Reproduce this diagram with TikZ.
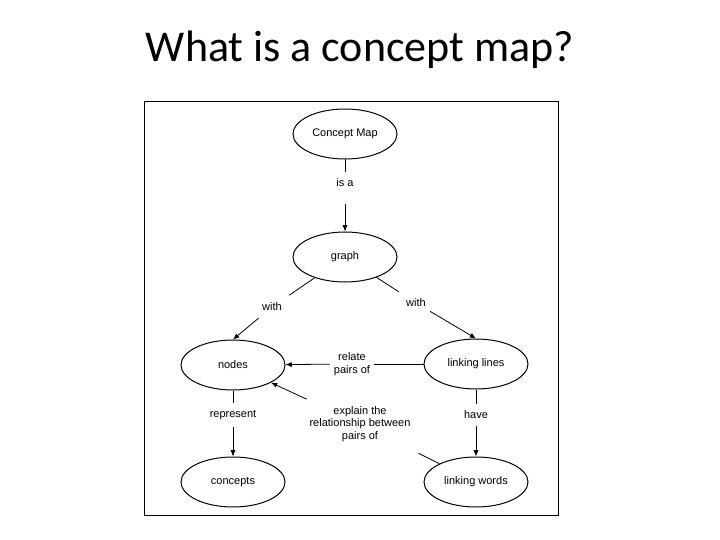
\documentclass[tikz,border=0pt]{standalone}
\usepackage{fontspec}
\setmainfont{Liberation Sans}
\newfontfamily\titlefont{Carlito}
\usetikzlibrary{arrows.meta,positioning,shapes.geometric}

\begin{document}
\begin{tikzpicture}[
    x=1pt, y=-1pt,
    concept/.style={ellipse, draw, line width=1pt, minimum width=104pt, minimum height=50pt, inner sep=0pt, font=\fontsize{11}{12}\selectfont},
    link/.style={align=center, inner xsep=4pt, inner ysep=7pt, font=\fontsize{11}{12.5}\selectfont},
    arrow/.style={-{Latex[length=2.2mm,width=1.8mm]}, line width=0.8pt},
    plain/.style={line width=0.8pt}
]
\useasboundingbox (0,0) rectangle (720,540);
\node[font=\titlefont\fontsize{44}{50}\selectfont] (title) at (360,50) {What is a concept map?};
\draw[line width=1pt] (144,102) rectangle (558,515);
% concepts
\node[concept] (cmap) at (345,134) {Concept Map};
\node[concept] (graph) at (345,257) {graph};
\node[concept] (nodes) at (233,365) {nodes};
\node[concept] (lines) at (476,364) {linking lines};
\node[concept] (concepts) at (233,482) {concepts};
\node[concept] (words) at (476,482) {linking words};
% linking phrases
\node[link] (isa) at (345,183) {is a};
\node[link] (withL) at (272,307) {with};
\node[link] (withR) at (416,303) {with};
\node[link] (relate) at (352,364) {relate\\pairs of};
\node[link] (explain) at (360,424) {explain the\\relationship between\\pairs of};
\node[link] (represent) at (233,415) {represent};
\node[link] (have) at (476,415) {have};
% connectors
\draw[plain] (cmap) -- (isa);
\draw[arrow, shorten <=10pt] (isa) -- (graph);
\draw[plain, shorten >=4pt] (graph) -- (withL);
\draw[arrow] (withL) -- (nodes.north);
\draw[plain, shorten >=4pt] (graph) -- (withR);
\draw[arrow] (withR) -- (lines.north);
\draw[plain] (lines) -- (relate);
\draw[arrow] (relate) -- (nodes);
\draw[plain, shorten >=10pt] (words) -- (explain);
\draw[arrow] (explain) -- (nodes);
\draw[plain] (nodes) -- (represent);
\draw[arrow] (represent) -- (concepts);
\draw[plain] (lines) -- (have);
\draw[arrow] (have) -- (words);
\end{tikzpicture}
\end{document}
